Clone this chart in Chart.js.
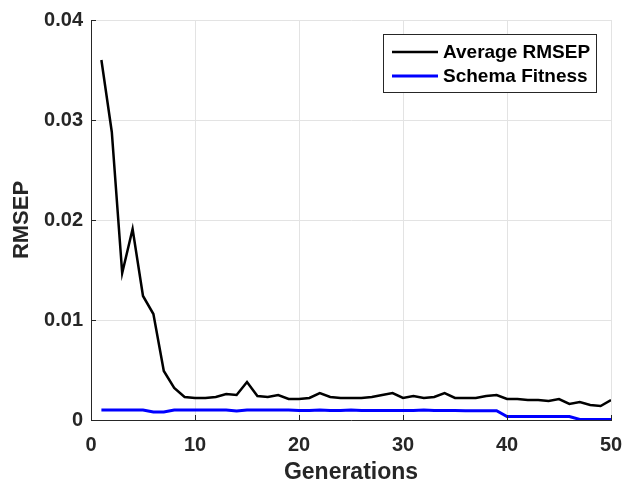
<!DOCTYPE html>
<html>
<head>
<meta charset="utf-8">
<script src="https://cdn.jsdelivr.net/npm/chart.js@4.4.0/dist/chart.umd.min.js"></script>
<style>
  body { margin: 0; background: #fff; }
</style>
</head>
<body>
<canvas id="rmsep-chart" width="624" height="485"></canvas>
<script>
const generations = [1, 2, 3, 4, 5, 6, 7, 8, 9, 10,
    11, 12, 13, 14, 15, 16, 17, 18, 19, 20,
    21, 22, 23, 24, 25, 26, 27, 28, 29, 30,
    31, 32, 33, 34, 35, 36, 37, 38, 39, 40,
    41, 42, 43, 44, 45, 46, 47, 48, 49, 50];

const averageRmsep = [0.0360, 0.0288, 0.0147, 0.0191, 0.0124, 0.0106, 0.0049, 0.0032, 0.0023, 0.0022,
    0.0022, 0.0023, 0.0026, 0.0025, 0.0038, 0.0024, 0.0023, 0.0025, 0.0021, 0.0021,
    0.0022, 0.0027, 0.0023, 0.0022, 0.0022, 0.0022, 0.0023, 0.0025, 0.0027, 0.0022,
    0.0024, 0.0022, 0.0023, 0.0027, 0.0022, 0.0022, 0.0022, 0.0024, 0.0025, 0.0021,
    0.0021, 0.0020, 0.0020, 0.0019, 0.0021, 0.0016, 0.0018, 0.0015, 0.0014, 0.0020];

const schemaFitness = [0.0010, 0.0010, 0.0010, 0.0010, 0.0010, 0.0008, 0.0008, 0.0010, 0.0010, 0.0010,
    0.0010, 0.0010, 0.0010, 0.0009, 0.0010, 0.0010, 0.0010, 0.0010, 0.0010, 0.00095,
    0.00095, 0.0010, 0.00095, 0.00095, 0.0010, 0.00095, 0.00095, 0.00095, 0.00095, 0.00095,
    0.00095, 0.0010, 0.00095, 0.00095, 0.00095, 0.00093, 0.00093, 0.00093, 0.00093, 0.00035,
    0.00035, 0.00035, 0.00035, 0.00035, 0.00035, 0.00035, 0.00005, 0.00005, 0.00005, 0.00005];

const xTicks = [0, 10, 20, 30, 40, 50];
const yTicks = [0, 0.01, 0.02, 0.03, 0.04];
const yTickLabels = ['0', '0.01', '0.02', '0.03', '0.04'];

const axisColor = '#262626';
const fontFamily = '"Liberation Sans", Arial, Helvetica, sans-serif';

// small inward tick marks, matlab style
const innerTicks = {
    id: 'innerTicks',
    afterDraw(chart) {
        const ctx = chart.ctx;
        const xs = chart.scales.x;
        const ys = chart.scales.y;
        ctx.save();
        ctx.strokeStyle = axisColor;
        ctx.lineWidth = 1;
        ctx.beginPath();
        xTicks.forEach(v => {
            const px = Math.round(xs.getPixelForValue(v)) + 0.5;
            ctx.moveTo(px, ys.bottom);
            ctx.lineTo(px, ys.bottom - 5);
        });
        yTicks.forEach(v => {
            const py = Math.round(ys.getPixelForValue(v)) + 0.5;
            ctx.moveTo(xs.left, py);
            ctx.lineTo(xs.left + 5, py);
        });
        ctx.stroke();
        ctx.restore();
    }
};

// legend with a box around it in the top right corner
const boxLegend = {
    id: 'boxLegend',
    afterDatasetsDraw(chart) {
        const ctx = chart.ctx;
        ctx.save();
        ctx.fillStyle = '#fff';
        ctx.fillRect(383.5, 34.5, 213, 58);
        ctx.strokeStyle = axisColor;
        ctx.lineWidth = 1;
        ctx.strokeRect(383.5, 34.5, 213, 58);
        ctx.font = 'bold 19px ' + fontFamily;
        ctx.textBaseline = 'middle';
        chart.data.datasets.forEach((ds, i) => {
            const y = 52 + i * 24;
            ctx.strokeStyle = ds.borderColor;
            ctx.lineWidth = ds.borderWidth;
            ctx.beginPath();
            ctx.moveTo(392, y);
            ctx.lineTo(438, y);
            ctx.stroke();
            ctx.fillStyle = '#000';
            ctx.fillText(ds.label, 443, y + 1);
        });
        ctx.restore();
    }
};

const rmsepChart = new Chart(document.getElementById('rmsep-chart'), {
    type: 'line',
    data: {
        labels: generations,
        datasets: [{
            label: 'Average RMSEP',
            data: averageRmsep,
            borderColor: '#000000',
            borderWidth: 2.5,
            pointRadius: 0,
            tension: 0
        }, {
            label: 'Schema Fitness',
            data: schemaFitness,
            borderColor: '#0000ff',
            borderWidth: 3,
            pointRadius: 0,
            tension: 0
        }]
    },
    options: {
        responsive: false,
        animation: false,
        layout: { padding: { top: 20, right: 13, left: 0, bottom: 0 } },
        plugins: {
            legend: { display: false },
            tooltip: { enabled: false }
        },
        scales: {
            x: {
                type: 'linear',
                min: 0,
                max: 50,
                afterBuildTicks: s => { s.ticks = xTicks.map(v => ({ value: v })); },
                afterFit: s => { s.height = 65; s.paddingRight = 0; s.paddingLeft = 0; },
                grid: { color: '#e3e3e3', drawTicks: false },
                border: { color: axisColor, width: 1 },
                ticks: {
                    padding: 13,
                    color: axisColor,
                    font: { family: fontFamily, size: 20, weight: 'bold' }
                },
                title: {
                    display: true,
                    text: 'Generations',
                    color: axisColor,
                    padding: { top: 0, bottom: -1 },
                    font: { family: fontFamily, size: 23, weight: 'bold' }
                }
            },
            y: {
                min: 0,
                max: 0.04,
                afterBuildTicks: s => { s.ticks = yTicks.map(v => ({ value: v })); },
                afterFit: s => { s.width = 91; },
                grid: { color: '#e3e3e3', drawTicks: false },
                border: { color: axisColor, width: 1 },
                ticks: {
                    padding: 8,
                    color: axisColor,
                    font: { family: fontFamily, size: 20, weight: 'bold' },
                    callback: (v, i) => yTickLabels[i]
                },
                title: {
                    display: true,
                    text: 'RMSEP',
                    color: axisColor,
                    padding: { top: 9, bottom: 0 },
                    font: { family: fontFamily, size: 22, weight: 'bold' }
                }
            }
        }
    },
    plugins: [innerTicks, boxLegend]
});
</script>
</body>
</html>
